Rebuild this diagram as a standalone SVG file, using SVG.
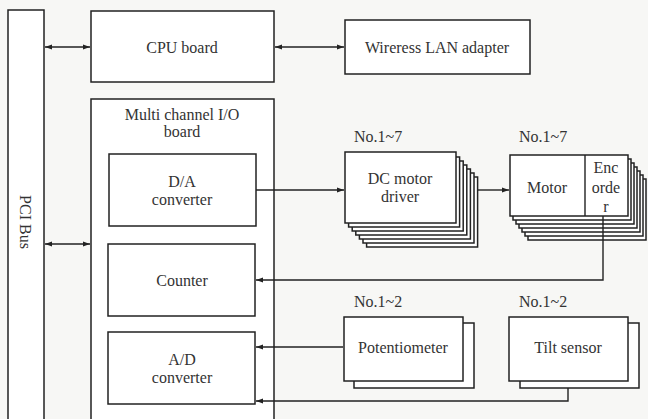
<svg xmlns="http://www.w3.org/2000/svg" width="648" height="419" viewBox="0 0 648 419">
<defs>
<marker id="ah" viewBox="0 0 10 10" refX="10" refY="5" markerWidth="7" markerHeight="7" orient="auto-start-reverse" markerUnits="userSpaceOnUse">
<path d="M0,1.5 L10,5 L0,8.5 z" fill="#222"/>
</marker>
<style>
.b{fill:#fff;stroke:#222;stroke-width:1.5}
.l{fill:none;stroke:#222;stroke-width:1.4}
text{font-family:"Liberation Serif","Times New Roman",serif;font-size:16px;fill:#333;text-anchor:middle}
.lab{text-anchor:start}
</style>
</defs>
<rect width="648" height="419" fill="#f7f7f5"/>
<g id="pci"><rect class="b" x="8" y="10" width="36" height="420"/>
<text transform="translate(20,222) rotate(90)">PCI Bus</text></g>
<g id="cpu"><rect class="b" x="91" y="11" width="183" height="71"/><text x="182" y="53">CPU board</text></g>
<g id="lan"><rect class="b" x="345" y="20" width="185" height="54"/><text x="437" y="53">Wireress LAN adapter</text></g>
<g id="mio"><rect class="b" x="91" y="99" width="183" height="330"/>
<text x="182" y="120">Multi channel I/O</text><text x="182" y="137">board</text></g>
<g id="da"><rect class="b" x="109" y="154" width="147" height="72"/><text x="182" y="187">D/A</text><text x="182" y="205">converter</text></g>
<g id="counter"><rect class="b" x="108" y="244" width="147" height="72"/><text x="182" y="286">Counter</text></g>
<g id="ad"><rect class="b" x="108" y="332" width="147" height="72"/><text x="182" y="365">A/D</text><text x="182" y="383">converter</text></g>
<g id="dcdriver">
<text class="lab" x="354" y="142">No.1~7</text>
<rect class="b" x="366.6" y="177" width="111" height="70"/>
<rect class="b" x="363" y="173" width="111" height="70"/>
<rect class="b" x="359.4" y="169" width="111" height="70"/>
<rect class="b" x="355.8" y="165" width="111" height="70"/>
<rect class="b" x="352.2" y="161" width="111" height="70"/>
<rect class="b" x="348.6" y="157" width="111" height="70"/>
<rect class="b" x="345" y="152" width="111" height="71"/>
<text x="400" y="184">DC motor</text><text x="400" y="202">driver</text></g>
<g id="motor">
<text class="lab" x="519" y="142">No.1~7</text>
<rect class="b" x="528" y="179" width="118" height="61"/>
<rect class="b" x="525" y="175" width="118" height="61"/>
<rect class="b" x="522" y="171" width="118" height="61"/>
<rect class="b" x="519" y="167" width="118" height="61"/>
<rect class="b" x="516" y="163" width="118" height="61"/>
<rect class="b" x="513" y="159" width="118" height="61"/>
<rect class="b" x="510" y="155" width="118" height="61"/>
<line class="l" x1="585" y1="155" x2="585" y2="216"/>
<text x="547" y="193">Motor</text>
<text x="606" y="173">Enc</text><text x="606" y="193">orde</text><text x="606" y="212">r</text></g>
<g id="pot">
<text class="lab" x="354" y="307">No.1~2</text>
<rect class="b" x="354" y="323" width="120" height="65"/>
<rect class="b" x="344" y="317" width="119" height="64"/>
<text x="403" y="353">Potentiometer</text></g>
<g id="tilt">
<text class="lab" x="519" y="307">No.1~2</text>
<rect class="b" x="520" y="323" width="119" height="65"/>
<rect class="b" x="509" y="317" width="119" height="64"/>
<text x="568" y="353">Tilt sensor</text></g>
<g id="connectors">
<line class="l" x1="45" y1="47" x2="90" y2="47" marker-start="url(#ah)" marker-end="url(#ah)"/>
<line class="l" x1="275" y1="47" x2="344" y2="47" marker-start="url(#ah)" marker-end="url(#ah)"/>
<line class="l" x1="45" y1="244" x2="90" y2="244" marker-start="url(#ah)" marker-end="url(#ah)"/>
<line class="l" x1="256" y1="190" x2="344" y2="190" marker-end="url(#ah)"/>
<line class="l" x1="478" y1="190" x2="509" y2="190" marker-end="url(#ah)"/>
<polyline class="l" points="603,216 603,280 256,280" marker-end="url(#ah)"/>
<line class="l" x1="343" y1="347" x2="256" y2="347" marker-end="url(#ah)"/>
<polyline class="l" points="568,388 568,401 256,401" marker-end="url(#ah)"/>
</g>
</svg>
